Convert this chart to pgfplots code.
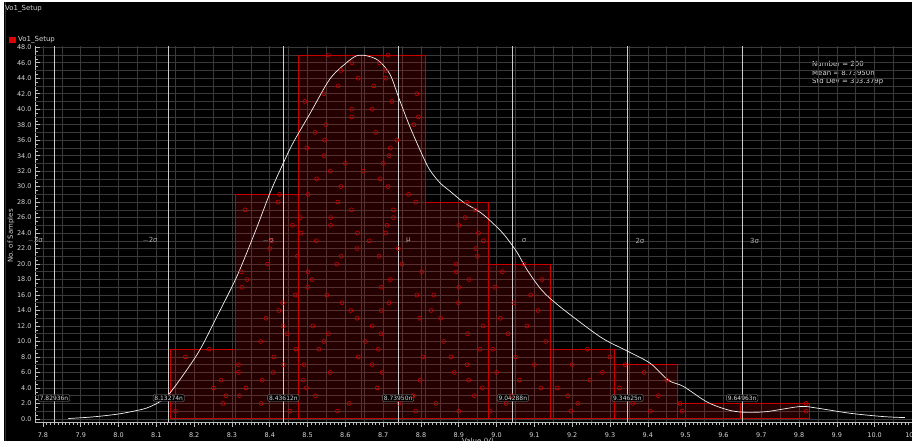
\documentclass[border=0pt]{standalone}
\usepackage{fontspec}
\setmainfont{DejaVu Sans}
\usepackage{pgfplots}
\usepackage{pgfplotstable}
\pgfplotsset{compat=1.18}
\definecolor{gridc}{RGB}{58,58,58}
\definecolor{sigc}{RGB}{205,205,205}
\definecolor{txtc}{RGB}{215,215,215}
\definecolor{barred}{RGB}{200,0,0}
\definecolor{axc}{RGB}{190,190,190}

% samples: x = value, y = stack level in its bin
\pgfplotstableread{
x y
8.151 1
8.276 2
8.284 3
8.251 4
8.271 5
8.317 6
8.317 7
8.177 8
8.240 9
8.453 1
8.377 2
8.320 3
8.337 4
8.380 5
8.409 6
8.436 7
8.411 8
8.469 9
8.376 10
8.445 11
8.435 12
8.390 13
8.424 14
8.434 15
8.467 16
8.326 17
8.340 18
8.325 19
8.394 20
8.473 21
8.400 22
8.405 23
8.483 24
8.460 25
8.481 26
8.335 27
8.422 28
8.426 29
8.579 1
8.610 2
8.521 3
8.497 4
8.489 5
8.560 6
8.491 7
8.634 8
8.530 9
8.543 10
8.555 11
8.514 12
8.631 13
8.614 14
8.591 15
8.551 16
8.500 17
8.512 18
8.501 19
8.577 20
8.589 21
8.631 22
8.523 23
8.632 24
8.561 25
8.561 26
8.616 27
8.580 28
8.501 29
8.588 30
8.524 31
8.560 32
8.600 33
8.543 34
8.498 35
8.545 36
8.520 37
8.548 38
8.617 39
8.617 40
8.493 41
8.543 42
8.581 43
8.634 44
8.588 45
8.617 46
8.555 47
8.786 1
8.742 2
8.779 3
8.684 4
8.798 5
8.697 6
8.671 7
8.805 8
8.687 9
8.653 10
8.694 11
8.671 12
8.796 13
8.695 14
8.715 15
8.789 16
8.695 17
8.719 18
8.802 19
8.750 20
8.689 21
8.740 22
8.663 23
8.707 24
8.710 25
8.727 26
8.727 27
8.786 28
8.767 29
8.713 30
8.692 31
8.647 32
8.700 33
8.716 34
8.719 35
8.736 36
8.680 37
8.781 38
8.793 39
8.671 40
8.723 41
8.789 42
8.675 43
8.707 44
8.707 45
8.690 46
8.713 47
8.900 1
8.839 2
8.941 3
8.962 4
8.926 5
8.888 6
8.922 7
8.879 8
8.956 9
8.860 10
8.923 11
8.964 12
8.852 13
8.827 14
8.899 15
8.834 16
8.900 17
8.927 18
8.893 19
8.893 20
8.949 21
8.945 22
8.965 23
8.952 24
8.900 25
8.917 26
8.943 27
8.921 28
8.983 1
9.025 2
9.040 3
9.117 4
9.060 5
9.000 6
9.100 7
9.050 8
8.990 9
9.130 10
9.030 11
9.080 12
9.010 13
9.110 14
9.045 15
9.090 16
8.995 17
9.120 18
9.015 19
9.072 20
9.196 1
9.215 2
9.188 3
9.160 4
9.247 5
9.280 6
9.200 7
9.300 8
9.240 9
9.407 1
9.360 2
9.428 3
9.325 4
9.450 5
9.390 6
9.340 7
9.491 1
9.485 2
9.819 1
9.819 2
}\samples

\pgfplotstableread{
x y
7.82936 -0.4
7.82936 48.2
nan nan
8.13274 -0.4
8.13274 48.2
nan nan
8.43612 -0.4
8.43612 48.2
nan nan
8.73950 -0.4
8.73950 48.2
nan nan
9.04288 -0.4
9.04288 48.2
nan nan
9.34625 -0.4
9.34625 48.2
nan nan
9.64963 -0.4
9.64963 48.2
}\siglines

\tikzset{sigl/.style={text=sigc!85!black, font=\fontsize{7}{8}\selectfont, inner sep=0pt},
  valb/.style={draw=gray, rounded corners=2bp, fill=black, text=txtc, font=\fontsize{6}{7}\selectfont, inner xsep=1.5bp, inner ysep=1.2bp}}

\begin{document}
\begin{tikzpicture}[x=1bp,y=1bp]
\path[use as bounding box] (0,0) rectangle (912,-441);
\fill[black] (0,0) rectangle (912,-441);
\fill[white] (0,0) rectangle (4,-441);
\fill[white] (0,0) rectangle (912,-2);
\draw[barred!80!black, line width=1.5bp] (5.5,-2) -- (5.5,-441);
\node[anchor=west, text=txtc, font=\fontsize{7}{8}\selectfont, inner sep=0pt] at (5,-9) {Vo1\_Setup};
\fill[red!90!black] (9,-37) rectangle (16,-43);
\node[anchor=west, text=txtc, font=\fontsize{7}{8}\selectfont, inner sep=0pt] at (18,-40) {Vo1\_Setup};
\node[rotate=90, text=txtc, font=\fontsize{7}{8}\selectfont, inner sep=0pt] at (11,-236) {No. of Samples};
\node[anchor=north, text=txtc, font=\fontsize{7}{8}\selectfont, inner sep=0pt] at (478,-438.5) {Value (V)};
\node[anchor=west, text=txtc, font=\fontsize{7}{8}\selectfont, inner sep=0pt] at (812,-64) {Number = 200};
\node[anchor=west, text=txtc, font=\fontsize{7}{8}\selectfont, inner sep=0pt] at (812,-73) {Mean = 8.73950n};
\node[anchor=west, text=txtc, font=\fontsize{7}{8}\selectfont, inner sep=0pt] at (812,-82) {Std Dev = 303.379p};
\begin{axis}[
  at={(35bp,-422bp)}, anchor=south west,
  scale only axis, width=885bp, height=376.3bp,
  xmin=7.779, xmax=10.12, ymin=-0.4, ymax=48.2,
  axis x line*=bottom, axis y line*=left,
  axis line style={axc, -},
  xtick={7.8,7.9,8.0,8.1,8.2,8.3,8.4,8.5,8.6,8.7,8.8,8.9,9.0,9.1,9.2,9.3,9.4,9.5,9.6,9.7,9.8,9.9,10.0,10.1},
  ytick={0,2,4,6,8,10,12,14,16,18,20,22,24,26,28,30,32,34,36,38,40,42,44,46,48},
  minor x tick num=9, minor y tick num=3,
  extra x ticks={7.85,7.95,8.05,8.15,8.25,8.35,8.45,8.55,8.65,8.75,8.85,8.95,9.05,9.15,9.25,9.35,9.45,9.55,9.65,9.75,9.85,9.95,10.05},
  extra x tick labels={},
  extra x tick style={grid=major, major tick length=0pt},
  extra y ticks={1,3,5,7,9,11,13,15,17,19,21,23,25,27,29,31,33,35,37,39,41,43,45,47},
  extra y tick labels={},
  extra y tick style={grid=major, major tick length=0pt},
  xmajorgrids, ymajorgrids,
  grid style={gridc, line width=0.6bp},
  xtick align=outside, ytick align=inside,
  major tick length=5bp, minor tick length=2.5bp,
  tick style={axc, line width=0.6bp},
  xticklabel style={/pgf/number format/.cd, fixed, fixed zerofill, precision=1, assume math mode=true},
  yticklabel style={/pgf/number format/.cd, fixed, fixed zerofill, precision=1, assume math mode=true},
  ticklabel style={text=txtc, font=\fontsize{6.5}{7}\selectfont},
  xticklabel shift=2bp,
  clip=false,
]
\addplot[ybar interval, fill=red, fill opacity=0.14, draw=barred, draw opacity=1, line width=0.9bp]
 coordinates {(8.1378,9) (8.3087,29) (8.4754,47) (8.6431,47) (8.8106,28) (8.978,20) (9.143,9) (9.3106,7) (9.479,2) (9.644,2) (9.827,2)};
\addplot[sigc, line width=0.8bp, unbounded coords=jump] table {\siglines};
\addplot[only marks, mark=o, mark size=2bp, mark options={barred, line width=0.6bp}] table {\samples};
\addplot[white!90!gray, line width=0.7bp, smooth, tension=0.5] coordinates {
 (7.867,0.05) (7.93,0.25) (7.995,0.6) (8.04,1.0) (8.074,1.4) (8.105,2.1) (8.13,3.0)
 (8.17,5.6) (8.215,8.9) (8.26,13.2) (8.312,18.3) (8.36,24.0) (8.40,29.1)
 (8.427,32.1) (8.46,35.5) (8.506,39.4) (8.559,43.9) (8.603,46.0) (8.63,46.9) (8.656,46.9)
 (8.687,46.3) (8.718,44.5) (8.744,41.1) (8.771,37.7) (8.806,33.8) (8.824,32.1) (8.85,30.5)
 (8.877,29.4) (8.912,28.0) (8.956,26.7) (8.983,25.6) (9.018,23.9) (9.053,21.6) (9.080,19.3) (9.12,16.6)
 (9.17,14.4) (9.274,10.6) (9.34,8.9) (9.406,7.2) (9.454,5.0) (9.494,4.2) (9.556,2.2) (9.609,1.2) (9.653,0.86)
 (9.714,0.94) (9.803,1.6) (9.847,1.4) (9.935,0.73) (10.023,0.3) (10.08,0.17)};
\node[sigl, anchor=east] at (axis cs:7.800,23) {$-$3σ};
\node[sigl, anchor=east] at (axis cs:8.104,23) {$-$2σ};
\node[sigl, anchor=east] at (axis cs:8.410,23) {$-$σ};
\node[sigl, anchor=west] at (axis cs:8.760,23) {μ};
\node[sigl, anchor=west] at (axis cs:9.066,23) {σ};
\node[sigl, anchor=west] at (axis cs:9.367,23) {2σ};
\node[sigl, anchor=west] at (axis cs:9.670,23) {3σ};
\node[valb] at (axis cs:7.82936,2.7) {7.82936n};
\node[valb] at (axis cs:8.13274,2.7) {8.13274n};
\node[valb] at (axis cs:8.43612,2.7) {8.43612n};
\node[valb] at (axis cs:8.73950,2.7) {8.73950n};
\node[valb] at (axis cs:9.04288,2.7) {9.04288n};
\node[valb] at (axis cs:9.34625,2.7) {9.34625n};
\node[valb] at (axis cs:9.64963,2.7) {9.64963n};
\end{axis}
\end{tikzpicture}
\end{document}
